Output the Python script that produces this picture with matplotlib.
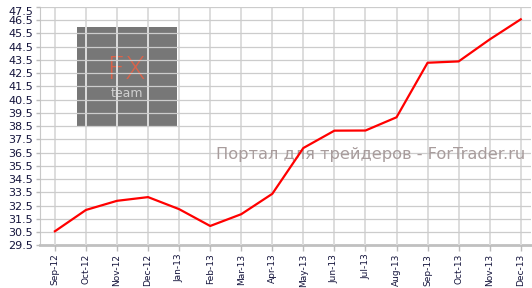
import matplotlib.pyplot as plt
from matplotlib.patches import Rectangle

months = ['Sep-12', 'Oct-12', 'Nov-12', 'Dec-12', 'Jan-13', 'Feb-13', 'Mar-13', 'Apr-13',
          'May-13', 'Jun-13', 'Jul-13', 'Aug-13', 'Sep-13', 'Oct-13', 'Nov-13', 'Dec-13']
values = [30.56, 32.17, 32.86, 33.14, 32.23, 30.96, 31.85, 33.39,
          36.85, 38.16, 38.17, 39.17, 43.29, 43.39, 45.05, 46.57]
yticks = [29.5 + i for i in range(19)]

fig = plt.figure(figsize=(5.32, 2.88), dpi=100)
ax = fig.add_axes([40 / 532, 1 - 245.3 / 288, 491 / 532, (245.3 - 7) / 288])

x = list(range(len(months)))
ax.plot(x, values, color='#ff0000', lw=1.6, zorder=5)

ax.set_xlim(-0.48, len(months) - 1 + 0.33)
ax.set_ylim(29.5, 47.5)
ax.set_xticks(x)
ax.set_xticklabels(months, rotation=90, fontsize=6.5)
ax.set_yticks(yticks)
ax.set_yticklabels(['%.1f' % v for v in yticks], fontsize=8)
# the top label sits a bit lower than its gridline
top = ax.get_yticklabels()[-1]
top.set_va('top')
top.set_y(47.75)

ax.set_axisbelow(False)
ax.grid(axis='y', color='#cccccc', lw=0.9)
ax.grid(axis='x', color='#dddddd', lw=1.4)
for s in ['top', 'right']:
    ax.spines[s].set_visible(False)
ax.spines['left'].set_color('#c8c8c8')
ax.spines['bottom'].set_color('#c0c0c0')
ax.spines['bottom'].set_linewidth(2)
ax.tick_params(axis='both', colors='#bbbbbb', length=4, width=1, pad=2)
ax.tick_params(axis='x', labelcolor='#14143c')
ax.tick_params(axis='y', labelcolor='#14143c', length=3)

# logo block, under the grid
logo = Rectangle((77 / 532, 1 - 127 / 288), 100 / 532, 100 / 288, transform=fig.transFigure,
                 facecolor='#777777', edgecolor='none', zorder=0.5, clip_on=False)
ax.add_patch(logo)
ax.text(126.5 / 532, 1 - 79 / 288, 'FX', transform=fig.transFigure, fontsize=23,
        color='#d9634a', fontweight='light', ha='center', va='baseline', zorder=0.6)
ax.text(126.5 / 532, 1 - 97 / 288, 'team', transform=fig.transFigure, fontsize=9,
        color='#d0d0d0', ha='center', va='baseline', zorder=0.6)

ax.text(525 / 532, 1 - 155 / 288, 'Портал для трейдеров - ForTrader.ru', transform=fig.transFigure,
        fontsize=11.7, color='#a89c9c', ha='right', va='center', zorder=4)

fig.savefig('out.png', dpi=100)
